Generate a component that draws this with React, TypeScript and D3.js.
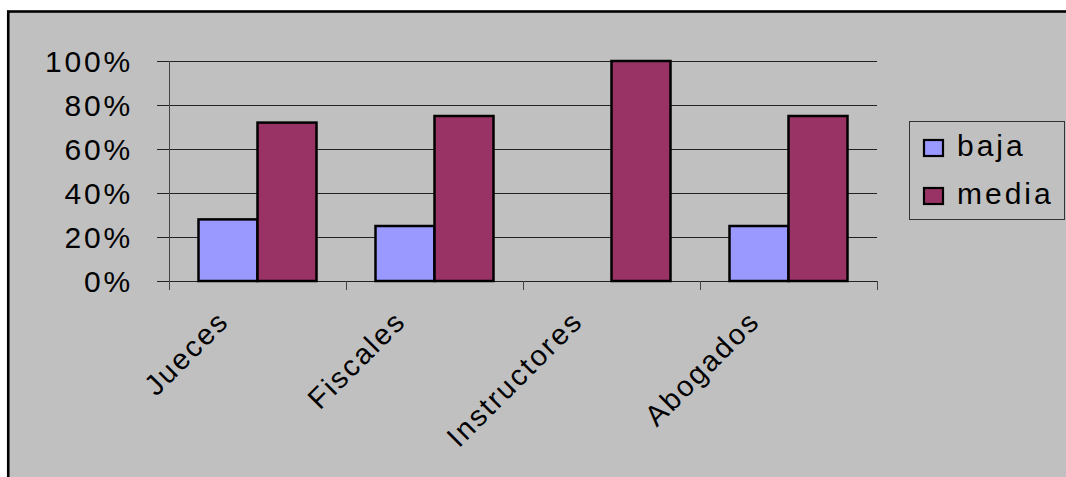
import React from "react";
import * as d3 from "d3";

// Categories, series and values
const categories = ["Jueces", "Fiscales", "Instructores", "Abogados"];
const seriesNames = ["baja", "media"];
const bajaValues = [28, 25, 0, 25];
const mediaValues = [72, 75, 100, 75];
const yTicks = [0, 20, 40, 60, 80, 100];

const seriesColors = ["#9999FF", "#993366"];
const FONT = "'Liberation Sans', Arial, Helvetica, sans-serif";

const W = 1066;
const H = 477;

const plot = { left: 169, right: 877, top: 61, bottom: 281 };

export default function App() {
  const x = d3
    .scaleBand<string>()
    .domain(categories)
    .range([plot.left, plot.right])
    .paddingInner(0)
    .paddingOuter(0);
  const barW = x.bandwidth() / 3;
  const xs = d3
    .scaleBand<string>()
    .domain(seriesNames)
    .range([0, barW * 2]);
  const y = d3.scaleLinear().domain([0, 100]).range([plot.bottom, plot.top]);
  const fmt = (d: number) => `${d}%`;

  const seriesData = [bajaValues, mediaValues];
  const boundaries = categories.map((c) => x(c) as number).concat([plot.right]);

  return (
    <svg
      width={W}
      height={H}
      style={{ position: "absolute", left: 0, top: 0, display: "block" }}
      fontFamily={FONT}
    >
      <rect x={0} y={0} width={W} height={H} fill="#ffffff" />
      {/* chart frame */}
      <rect
        x={8.25}
        y={11.5}
        width={W + 20}
        height={H + 20}
        fill="#C0C0C0"
        stroke="#000"
        strokeWidth={2.6}
      />

      {/* gridlines */}
      {yTicks.map((t) => (
        <line
          key={`g${t}`}
          x1={plot.left - 12}
          x2={plot.right}
          y1={y(t) + 0.5}
          y2={y(t) + 0.5}
          stroke="#222"
          strokeWidth={1}
        />
      ))}

      {/* y axis */}
      <line
        x1={plot.left + 0.5}
        x2={plot.left + 0.5}
        y1={plot.top}
        y2={plot.bottom + 9}
        stroke="#444"
        strokeWidth={1}
      />
      {boundaries.map((bx, i) => (
        <line
          key={`t${i}`}
          x1={bx + 0.5}
          x2={bx + 0.5}
          y1={plot.bottom}
          y2={plot.bottom + 9}
          stroke="#444"
          strokeWidth={1}
        />
      ))}

      {yTicks.map((t) => (
        <text
          key={`yl${t}`}
          x={133}
          y={y(t) + 10.5}
          textAnchor="end"
          fontSize={30}
          letterSpacing={2.8}
          fill="#000"
        >
          {fmt(t)}
        </text>
      ))}

      {/* bars */}
      {categories.map((c, ci) =>
        seriesNames.map((s, si) => {
          const v = seriesData[si][ci];
          if (v <= 0) return null;
          const bx = (x(c) as number) + x.bandwidth() / 2 - barW + (xs(s) as number);
          return (
            <rect
              key={`${c}-${s}`}
              x={bx}
              y={y(v)}
              width={xs.bandwidth()}
              height={y(0) - y(v)}
              fill={seriesColors[si]}
              stroke="#000"
              strokeWidth={2.5}
            />
          );
        })
      )}

      {/* category labels */}
      {categories.map((c) => {
        const cx = (x(c) as number) + x.bandwidth() / 2;
        return (
          <text
            key={`cl${c}`}
            transform={`translate(${cx - 27},${plot.bottom + 42}) rotate(-45)`}
            textAnchor="end"
            fontSize={29}
            letterSpacing={2.2}
            fill="#000"
          >
            {c}
          </text>
        );
      })}

      {/* legend */}
      <rect x={909.5} y={121.5} width={155} height={98} fill="#C0C0C0" stroke="#333" strokeWidth={1} />
      {seriesNames.map((s, i) => (
        <g key={`lg${s}`} transform={`translate(0,${i * 48})`}>
          <rect x={924} y={140} width={19} height={16} fill={seriesColors[i]} stroke="#000" strokeWidth={2.2} />
          <text x={957} y={156} fontSize={30} letterSpacing={3} fill="#000">
            {s}
          </text>
        </g>
      ))}
    </svg>
  );
}
